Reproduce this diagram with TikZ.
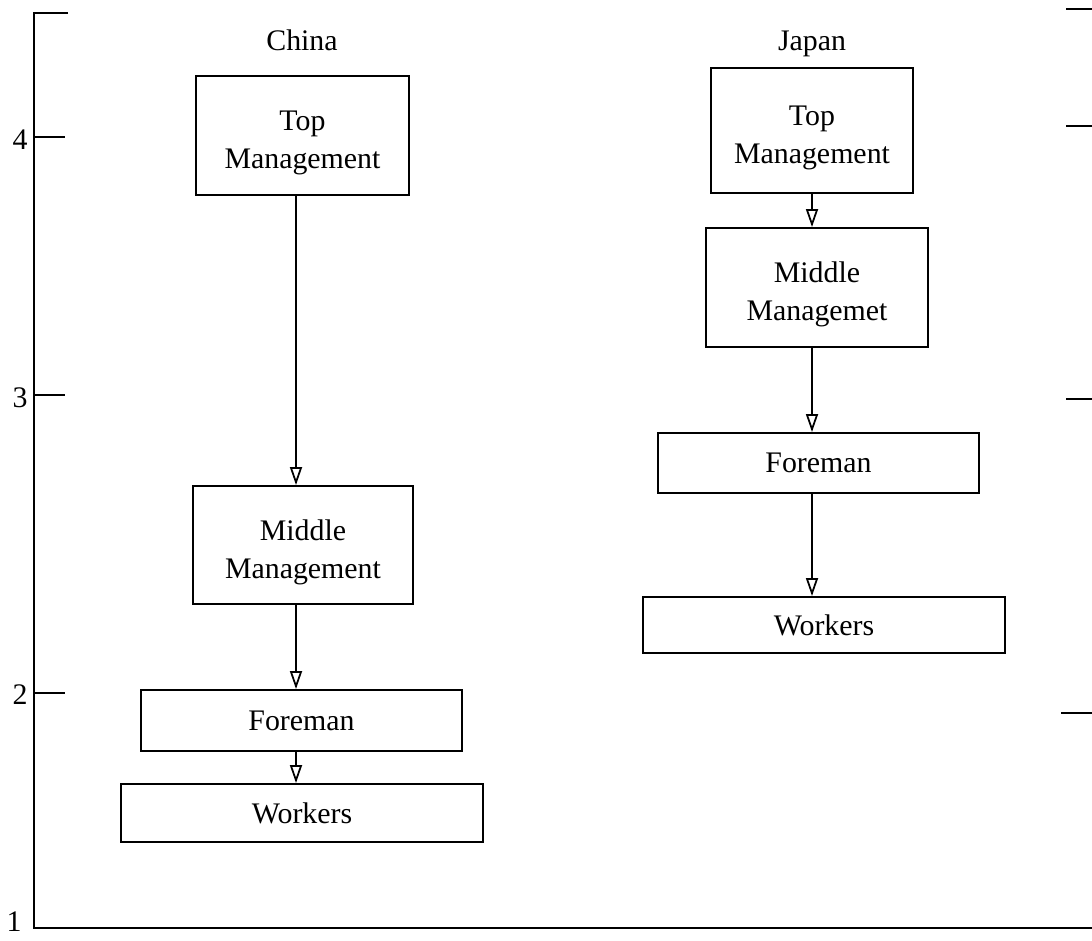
\documentclass[tikz,border=0pt]{standalone}
\usepackage{fontspec}
\setmainfont{Liberation Serif}
\usetikzlibrary{arrows.meta}
% extra room above the first line of two-line labels
\newcommand\padtop{\rule{0pt}{20pt}}
\begin{document}
\begin{tikzpicture}[x=0.02cm,y=-0.02cm,
  line width=1.1pt,
  box/.style={draw, rectangle, inner sep=0pt, align=center,
    font=\fontsize{17}{21.5}\selectfont},
  lbl/.style={font=\fontsize{17}{21.5}\selectfont, inner sep=0pt},
  arr/.style={-{Triangle[open,length=0.36cm,width=0.24cm,line width=1pt]}},
  tick/.style={line width=1.2pt}]
\useasboundingbox (0,0) rectangle (1092,940);

% axes
\coordinate (otop) at (34,13);
\coordinate (orig) at (34,928);
\coordinate (xend) at (1092,928);
\draw[tick] (68,13) -- (otop) -- (orig) -- (xend);
\draw[tick] (34,137) -- (65,137);
\draw[tick] (34,395) -- (65,395);
\draw[tick] (34,693) -- (65,693);
\node[lbl] (y4) at (20,140) {4};
\node[lbl] (y3) at (20,398) {3};
\node[lbl] (y2) at (20,695) {2};
\node[lbl] (y1) at (14,922) {1};
% right-hand ticks
\draw[tick] (1066,9) -- (1092,9);
\draw[tick] (1066,126) -- (1092,126);
\draw[tick] (1066,399) -- (1092,399);
\draw[tick] (1061,713) -- (1092,713);

% column headings
\node[lbl, anchor=base] (china) at (302,50) {China};
\node[lbl, anchor=base] (japan) at (812,50) {Japan};

% China hierarchy
\coordinate (cx) at (296,0);
\node[box, minimum width=4.26cm, minimum height=2.38cm] (ct) at (302.5,135.5) {\padtop Top\\Management};
\node[box, minimum width=4.40cm, minimum height=2.36cm] (cm) at (303,545) {\padtop Middle\\Management};
\node[box, minimum width=6.42cm, minimum height=1.22cm] (cf) at (301.5,720.5) {Foreman};
\node[box, minimum width=7.24cm, minimum height=1.16cm] (cw) at (302,813) {Workers};
\draw[arr] (ct.south -| cx) -- (cm.north -| cx);
\draw[arr] (cm.south -| cx) -- (cf.north -| cx);
\draw[arr] (cf.south -| cx) -- (cw.north -| cx);

% Japan hierarchy
\coordinate (jx) at (812,0);
\node[box, minimum width=4.04cm, minimum height=2.50cm] (jt) at (812,130.5) {\padtop Top\\Management};
\node[box, minimum width=4.44cm, minimum height=2.38cm] (jm) at (817,287.5) {\padtop Middle\\Managemet};
\node[box, minimum width=6.42cm, minimum height=1.20cm] (jf) at (818.5,463) {Foreman};
\node[box, minimum width=7.24cm, minimum height=1.12cm] (jw) at (824,625) {Workers};
\draw[arr] (jt.south -| jx) -- (jm.north -| jx);
\draw[arr] (jm.south -| jx) -- (jf.north -| jx);
\draw[arr] (jf.south -| jx) -- (jw.north -| jx);
\end{tikzpicture}
\end{document}
